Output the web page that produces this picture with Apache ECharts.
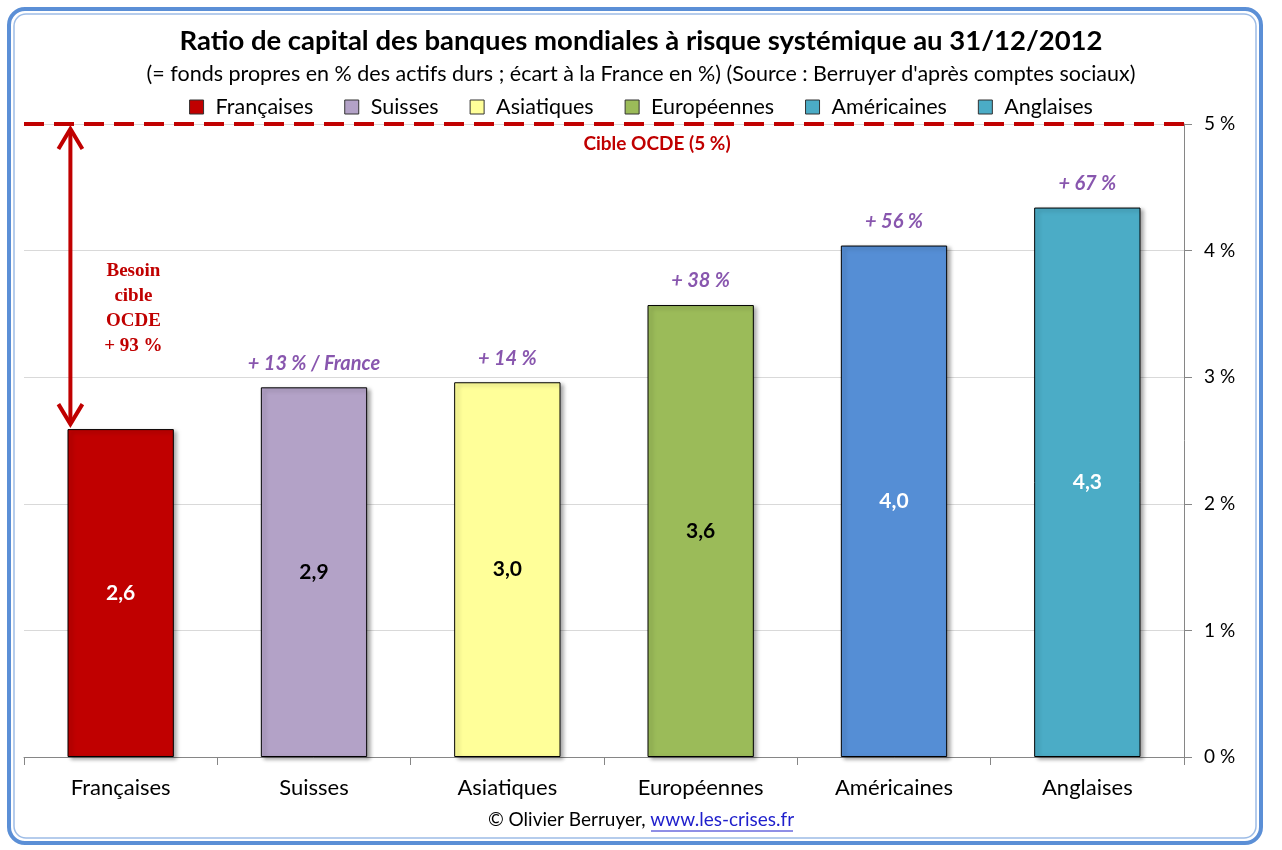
<!DOCTYPE html>
<html>
<head>
<meta charset="utf-8">
<script src="https://cdn.jsdelivr.net/npm/echarts@6/dist/echarts.min.js"></script>
<style>
  html, body { margin: 0; padding: 0; background: #fff; }
  #chart { width: 1282px; height: 850px; }
</style>
</head>
<body>
<div id="chart"></div>
<script>
// données
const categories = ["Françaises", "Suisses", "Asiatiques", "Européennes", "Américaines", "Anglaises"];
const ratios = [2.59, 2.92, 2.96, 3.57, 4.04, 4.34];
const ecartLabels = ["", "+ 13 % / France", "+ 14 %", "+ 38 %", "+ 56 %", "+ 67 %"];
const barColors = ["#C00000", "#B3A2C7", "#FFFF99", "#9BBB59", "#558ED5", "#4BACC6"];
const legendColors = ["#C00000", "#B3A2C7", "#FFFF99", "#9BBB59", "#4BACC6", "#4BACC6"];
const insideLabelColors = ["#fff", "#000", "#000", "#000", "#fff", "#fff"];
const cibleOCDE = 5;
const besoinLabel = ["Besoin", "cible", "OCDE", "+ 93 %"];
const yTicks = [0, 1, 2, 3, 4, 5];

const FONT = "Lato";

const chart = echarts.init(document.getElementById("chart"));

const barSeries = categories.map((name, i) => ({
  name: name,
  type: "bar",
  barWidth: "55%",
  barGap: "-100%",
  data: ratios.map((v, j) => (j === i ? v : null)),
  itemStyle: {
    color: barColors[i],
    borderColor: "#000",
    borderWidth: 1,
    shadowColor: "rgba(0,0,0,0.35)",
    shadowBlur: 4,
    shadowOffsetX: 3,
    shadowOffsetY: 2,
  },
  label: {
    show: true,
    position: "inside",
    fontFamily: FONT,
    fontWeight: "bold",
    fontSize: 21,
    color: insideLabelColors[i],
    formatter: (p) => p.value.toFixed(1).replace(".", ","),
  },
  emphasis: { disabled: true },
  z: 2,
}));

// ligne cible OCDE
barSeries[0].markLine = {
  silent: true,
  symbol: "none",
  data: [{ yAxis: cibleOCDE }],
  lineStyle: { color: "#C00000", width: 4, type: [20, 10] },
  label: {
    show: true,
    position: "insideMiddleBottom",
    distance: 10,
    offset: [53, 0],
    formatter: "Cible OCDE (5 %)",
    color: "#C00000",
    fontFamily: FONT,
    fontWeight: "bold",
    fontSize: 19,
  },
};

const option = {
  animation: false,
  title: {
    text: "Ratio de capital des banques mondiales à risque systémique au 31/12/2012",
    subtext: "(= fonds propres en % des actifs durs ; écart à la France en %) (Source : Berruyer d'après comptes sociaux)",
    left: "center",
    top: 22,
    itemGap: 8,
    textStyle: { fontFamily: FONT, fontWeight: "bold", fontSize: 27.5, color: "#000" },
    subtextStyle: { fontFamily: FONT, fontSize: 21.5, color: "#000" },
  },
  legend: {
    top: 91,
    left: "center",
    itemWidth: 14,
    itemHeight: 14,
    itemGap: 31,
    icon: "rect",
    itemStyle: { borderColor: "#333", borderWidth: 1 },
    textStyle: { fontFamily: FONT, fontSize: 21.5, color: "#000", padding: [0, 0, 0, 7] },
    data: categories.map((name, i) => ({ name: name, itemStyle: { color: legendColors[i] } })),
  },
  grid: { left: 24, right: 98, top: 124, bottom: 93, containLabel: false },
  xAxis: {
    type: "category",
    data: categories,
    axisLine: { lineStyle: { color: "#868686" } },
    axisTick: { show: true, length: 8, lineStyle: { color: "#868686" } },
    axisLabel: { fontFamily: FONT, fontSize: 22, color: "#000", margin: 20 },
  },
  yAxis: {
    type: "value",
    position: "right",
    min: 0,
    max: 5,
    interval: 1,
    axisLine: { show: true, lineStyle: { color: "#868686" } },
    axisTick: { show: true, length: 8, lineStyle: { color: "#868686" } },
    splitLine: { lineStyle: { color: "#D9D9D9" } },
    axisLabel: {
      fontFamily: FONT,
      fontSize: 19,
      color: "#000",
      margin: 20,
      formatter: (v) => (yTicks.includes(v) ? v + " %" : ""),
    },
  },
  series: [
    ...barSeries,
    {
      name: "ecarts",
      type: "scatter",
      symbolSize: 0,
      data: categories.map((c, i) => [c, ratios[i]]),
      label: {
        show: true,
        position: "top",
        distance: 14,
        color: "#6A2C9A",
        fontFamily: FONT,
        fontWeight: "bold",
        fontStyle: "italic",
        fontSize: 20,
        formatter: (p) => ecartLabels[p.dataIndex],
      },
      silent: true,
      z: 3,
    },
    {
      name: "besoin",
      type: "custom",
      silent: true,
      data: [[0, cibleOCDE, ratios[0]]],
      encode: { x: 0, y: [1, 2] },
      renderItem: (params, api) => {
        const top = api.coord([api.value(0), api.value(1)]);
        const bottom = api.coord([api.value(0), api.value(2)]);
        const band = api.size([1, 0])[0];
        const x = top[0] - band * 0.26;
        const y1 = top[1] + 5;
        const y2 = bottom[1] - 5;
        const stroke = { stroke: "#C00000", lineWidth: 4, fill: null };
        const textY = y1 + (y2 - y1) * 0.61;
        return {
          type: "group",
          children: [
            { type: "line", shape: { x1: x, y1: y1 + 2, x2: x, y2: y2 - 2 }, style: stroke },
            { type: "polyline", shape: { points: [[x - 12, y1 + 20], [x, y1], [x + 12, y1 + 20]] }, style: stroke },
            { type: "polyline", shape: { points: [[x - 12, y2 - 20], [x, y2], [x + 12, y2 - 20]] }, style: stroke },
            {
              type: "text",
              x: x + 63,
              y: textY,
              style: {
                text: besoinLabel.join("\n"),
                fill: "#C00000",
                font: "bold 19px 'Liberation Serif'",
                lineHeight: 25,
                align: "center",
                verticalAlign: "middle",
              },
            },
          ],
        };
      },
      z: 4,
    },
  ],
  graphic: [
    {
      type: "rect",
      shape: { x: 9, y: 9, width: 1252, height: 834, r: 16 },
      style: { fill: null, stroke: "#5B8FD6", lineWidth: 4 },
      z: -1,
      silent: true,
    },
    {
      type: "rect",
      shape: { x: 14, y: 14, width: 1242, height: 824, r: 12 },
      style: { fill: null, stroke: "#9DBCE6", lineWidth: 1.5 },
      z: -1,
      silent: true,
    },
    {
      type: "text",
      left: "center",
      top: 810,
      style: {
        text: "{a|© Olivier Berruyer, }{b|www.les-crises.fr}",
        rich: {
          a: { fontFamily: FONT, fontSize: 19, fill: "#000", color: "#000" },
          b: { fontFamily: FONT, fontSize: 19, fill: "#1F1FCC", color: "#1F1FCC" },
        },
      },
      silent: true,
    },
    {
      type: "line",
      shape: { x1: 651, y1: 831, x2: 793, y2: 831 },
      style: { stroke: "#1F1FCC", lineWidth: 1 },
      silent: true,
    },
  ],
};

chart.setOption(option);
</script>
</body>
</html>
